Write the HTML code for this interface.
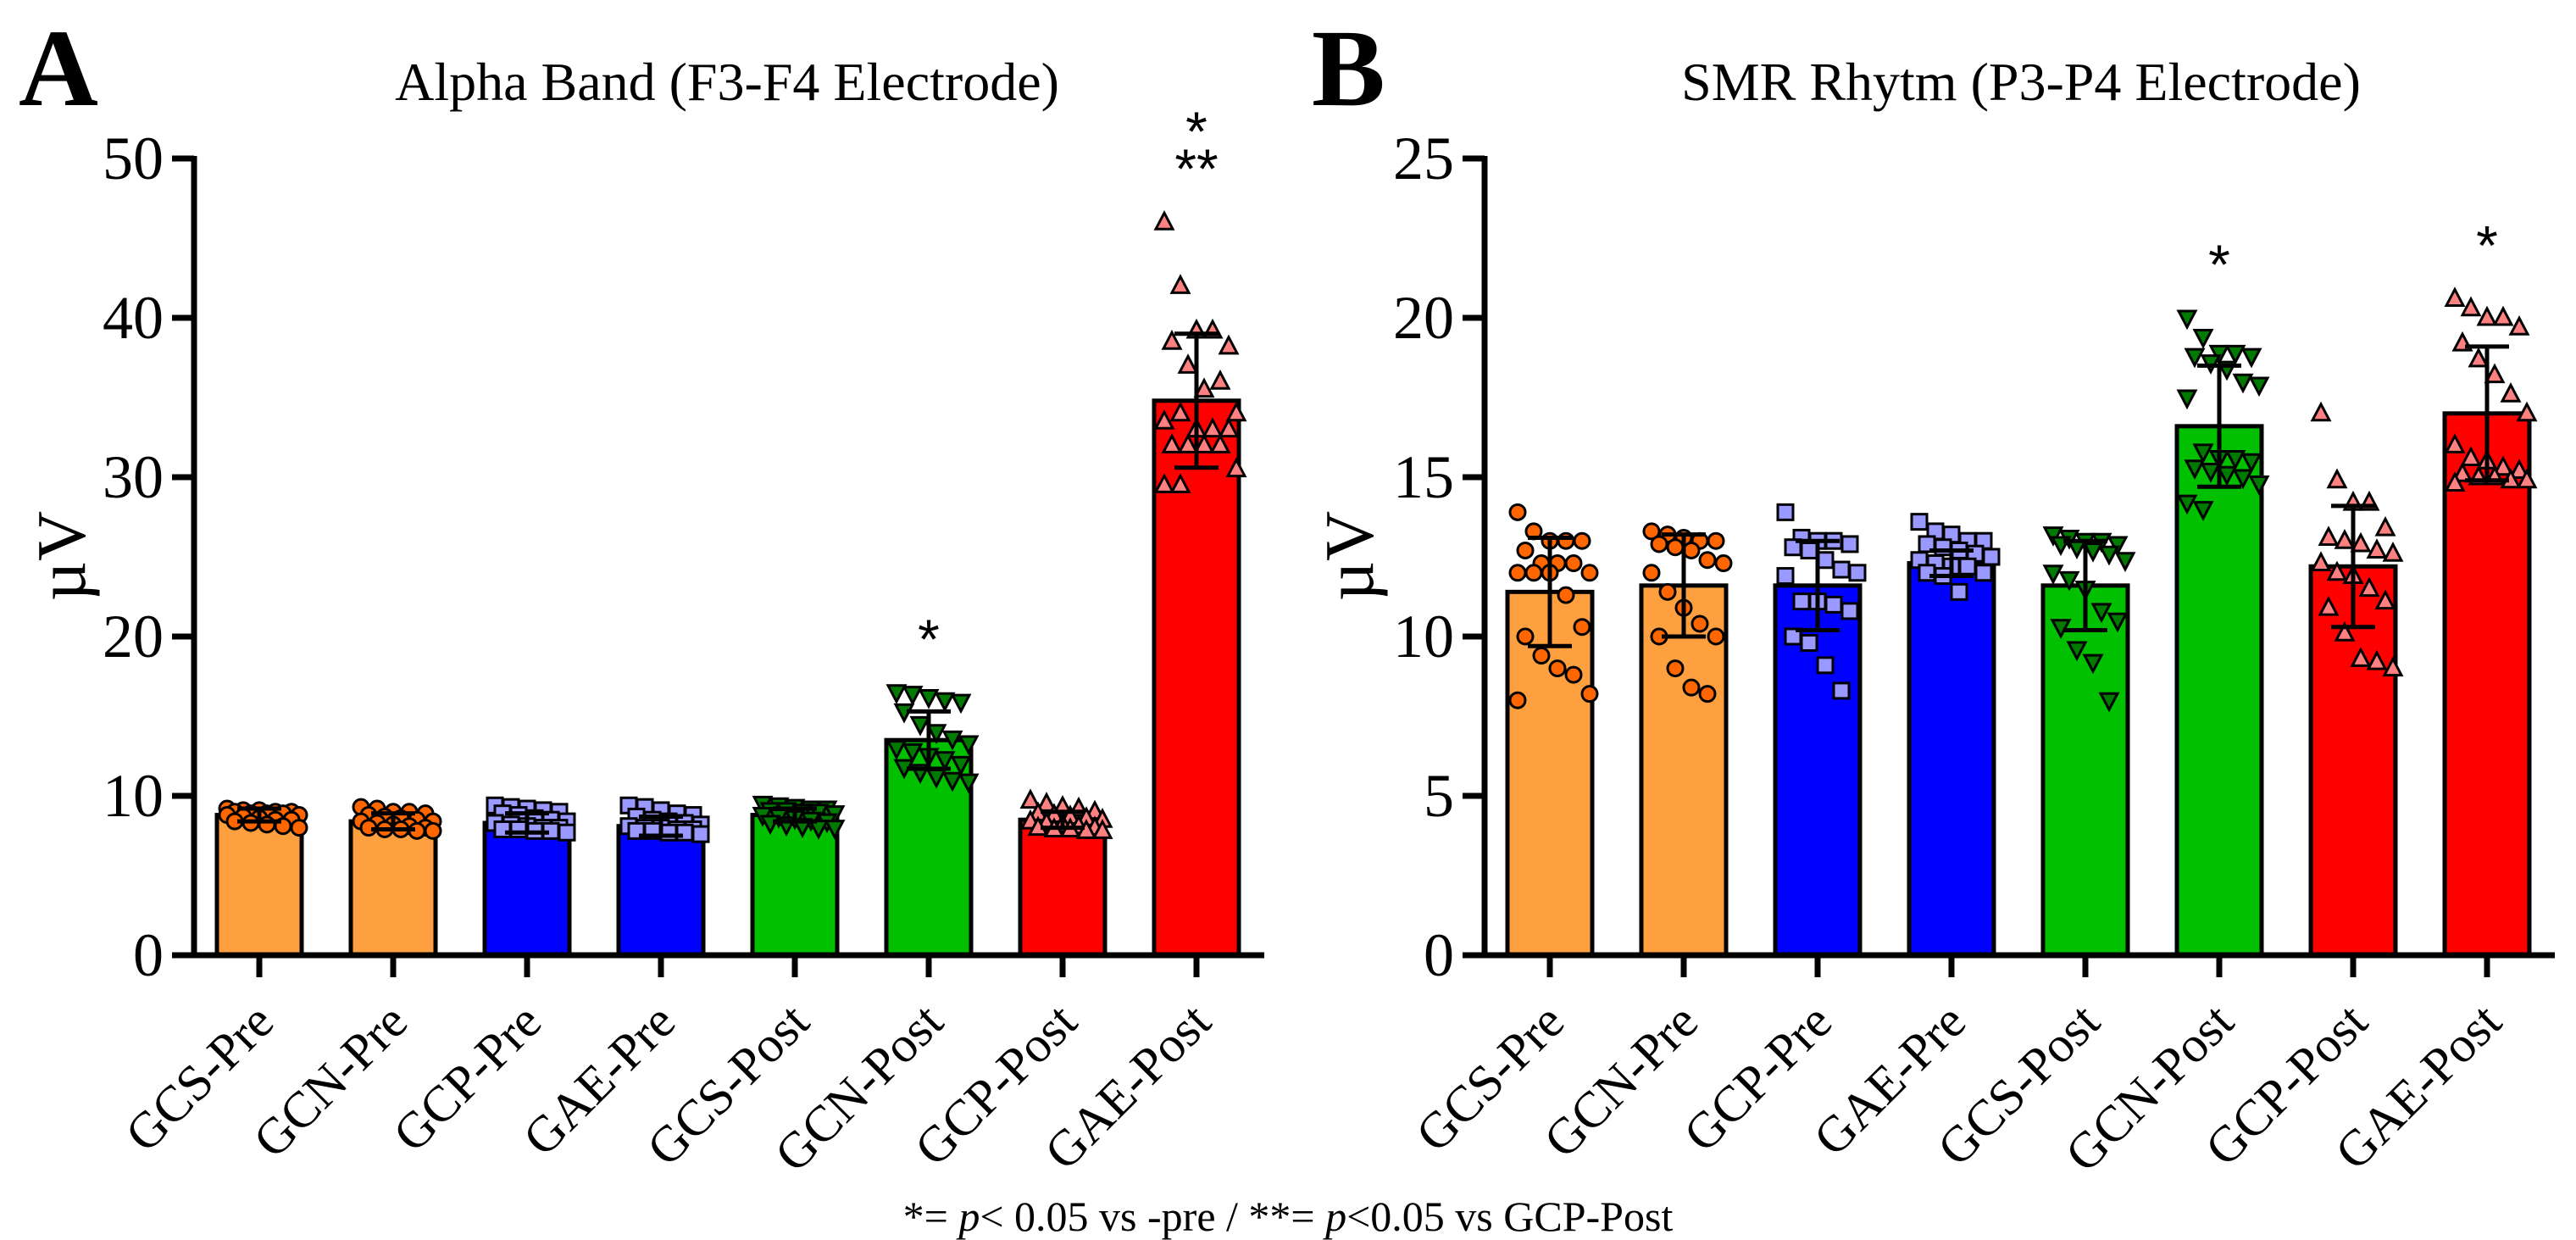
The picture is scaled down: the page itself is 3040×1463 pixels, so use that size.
<!DOCTYPE html>
<html><head><meta charset="utf-8">
<style>
html,body{margin:0;padding:0;background:#fff;}
svg{display:block;font-family:"Liberation Serif",serif;}
</style></head>
<body>
<svg id="chart" width="3040" height="1463" viewBox="0 0 3040 1463" xmlns="http://www.w3.org/2000/svg">
<text x="22" y="124" font-size="130" font-weight="bold">A</text>
<text x="858" y="118" font-size="64" text-anchor="middle">Alpha Band (F3-F4 Electrode)</text>
<text x="1548" y="124" font-size="130" font-weight="bold">B</text>
<text x="2385" y="118" font-size="64" text-anchor="middle">SMR Rhytm (P3-P4 Electrode)</text>
<text x="100" y="656" font-size="82" text-anchor="middle" transform="rotate(-90 100 656)">µV</text>
<text x="1620" y="656" font-size="82" text-anchor="middle" transform="rotate(-90 1620 656)">µV</text>
<text x="1520" y="1452" font-size="50" text-anchor="middle">*= <tspan font-style="italic">p</tspan>&lt; 0.05 vs -pre / **= <tspan font-style="italic">p</tspan>&lt;0.05 vs GCP-Post</text>
<g id="gA"></g>
<g id="gB"></g>
</svg>
<script>
const categories = ["GCS-Pre","GCN-Pre","GCP-Pre","GAE-Pre","GCS-Post","GCN-Post","GCP-Post","GAE-Post"];
const barFill = ["#FFA040","#FFA040","#0000FF","#0000FF","#00C000","#00C000","#FF0000","#FF0000"];
const markerFill = ["#FF6600","#FF6600","#9999FF","#9999FF","#007A00","#007A00","#FF8080","#FF8080"];
const markerShape = ["circle","circle","square","square","down","down","up","up"];

const alphaMeans = [8.8, 8.4, 8.3, 8.1, 8.8, 13.5, 8.5, 34.8];
const alphaSD = [0.4, 0.5, 0.6, 0.6, 0.4, 1.8, 0.5, 4.2];
const alphaTicks = [0,10,20,30,40,50];
const alphaStars = [null,null,null,null,null,["*"],null,["*","**"]];
const alphaPoints = [
 [9.2,9.1,9.1,9.0,9.0,9.0,8.9,8.9,8.9,8.8,8.8,8.7,8.6,8.5,8.5,8.4,8.3,8.2,8.1,8.0],
 [9.3,9.2,9.0,9.0,8.9,8.8,8.7,8.6,8.5,8.4,8.4,8.3,8.2,8.1,8.0,8.0,7.9,7.9,7.8,7.8],
 [9.4,9.3,9.2,9.1,9.0,8.9,8.8,8.6,8.5,8.4,8.3,8.2,8.1,8.0,8.0,7.9,7.9,7.8,7.8,7.7],
 [9.4,9.3,9.1,8.9,8.8,8.7,8.5,8.4,8.3,8.2,8.1,8.0,8.0,7.9,7.9,7.8,7.8,7.7,7.7,7.6],
 [9.5,9.4,9.3,9.2,9.2,9.1,9.1,9.0,9.0,8.9,8.8,8.7,8.6,8.5,8.4,8.3,8.2,8.1,8.0,8.0],
 [16.5,16.4,16.2,16.0,15.9,15.3,14.5,14.0,13.6,13.3,13.0,12.8,12.5,12.3,12.0,11.8,11.5,11.2,11.0,10.9],
 [9.7,9.5,9.3,9.2,9.0,8.9,8.8,8.7,8.6,8.5,8.4,8.3,8.2,8.1,8.0,8.0,7.9,7.9,7.8,7.8],
 [46,42,39.2,39.2,38.2,38.5,37,35.5,36,34,33.5,34,33,33,33,32,32,32,32,30.5,29.5,29.5]
];

const smrMeans = [11.4, 11.6, 11.6, 12.3, 11.6, 16.6, 12.2, 17.0];
const smrSD = [1.7, 1.6, 1.4, 0.4, 1.4, 1.9, 1.9, 2.1];
const smrTicks = [0,5,10,15,20,25];
const smrStars = [null,null,null,null,null,["*"],null,["*"]];
const smrPoints = [
 [13.9,13.3,13.0,13.0,13.0,12.7,12.3,12.3,12.3,12.0,12.0,12.0,12.0,11.3,10.3,10.0,9.4,9.0,8.8,8.2,8.0],
 [13.3,13.2,13.1,13.0,13.0,12.9,12.8,12.7,12.4,12.3,12.0,11.4,10.9,10.4,10.0,10.0,9.0,8.4,8.2],
 [13.9,13.1,13.0,13.0,12.9,12.8,12.7,12.4,12.1,12.0,11.9,11.1,11.1,11.0,10.8,10.0,9.8,9.1,8.3],
 [13.6,13.3,13.2,13.0,13.0,12.9,12.8,12.7,12.6,12.5,12.4,12.3,12.2,12.2,12.0,12.0,11.9,11.4],
 [13.2,13.1,13.0,13.0,12.9,12.9,12.8,12.7,12.6,12.4,12.0,11.8,11.5,10.8,10.5,10.3,9.6,9.2,8.0],
 [20.0,19.4,18.9,18.9,18.8,18.8,18.6,18.4,18.0,17.9,17.5,15.8,15.6,15.6,15.5,15.3,15.2,15.1,15.0,14.8,14.2,14.0],
 [17.0,14.9,14.2,14.2,13.4,13.1,13.0,12.9,12.7,12.6,12.3,12.0,11.9,11.5,11.1,10.9,10.1,9.3,9.2,9.0],
 [20.6,20.3,20.0,20.0,19.7,19.2,18.7,18.2,17.6,17.0,16.0,15.6,15.5,15.3,15.2,15.1,15.0,15.0,14.9,14.9,14.8]
];

const NS="http://www.w3.org/2000/svg";
function mk(parent, tag, attrs){const e=document.createElementNS(NS,tag);for(const k in attrs)e.setAttribute(k,attrs[k]);parent.appendChild(e);return e;}

function drawPanel(g, id, axisX, firstX, yMax, means, sds, points, ticks, stars){
  const y0=1127, yTop=187, step=158, bw=100, axisEnd=firstX+7*step+80;
  const yS=v=>y0-(v/yMax)*(y0-yTop);
  const xS=i=>firstX+i*step;
  means.forEach((m,i)=>{
    const r=mk(g,'rect',{x:xS(i)-bw/2,y:yS(m),width:bw,height:y0-yS(m),fill:barFill[i],stroke:'#000','stroke-width':5});
    
    
  });
  points.forEach((arr,i)=>{
    arr.forEach((v,j)=>{
      const cx=xS(i)+((j%5)-2)*19+((Math.floor(j/5)%2)?9:0);
      const cy=yS(v);
      let e;const st={fill:markerFill[i],stroke:'#000','stroke-width':3};
      if(markerShape[i]==='circle') e=mk(g,'circle',Object.assign({cx:cx,cy:cy,r:9},st));
      else if(markerShape[i]==='square') e=mk(g,'rect',Object.assign({x:cx-9,y:cy-9,width:18,height:18},st));
      else if(markerShape[i]==='up') e=mk(g,'polygon',Object.assign({points:`${cx},${cy-11} ${cx-10},${cy+8} ${cx+10},${cy+8}`},st));
      else e=mk(g,'polygon',Object.assign({points:`${cx},${cy+11} ${cx-10},${cy-8} ${cx+10},${cy-8}`},st));
      
      
    });
  });
  means.forEach((m,i)=>{
    const x=xS(i), a=yS(m+sds[i]), b=yS(m-sds[i]);
    const eg=mk(g,'g',{stroke:'#000','stroke-width':5});
    
    
    mk(eg,'line',{x1:x,y1:a,x2:x,y2:b});
    mk(eg,'line',{x1:x-26,y1:a,x2:x+26,y2:a});
    mk(eg,'line',{x1:x-26,y1:b,x2:x+26,y2:b});
  });
  const ax=mk(g,'g',{stroke:'#000','stroke-width':7});
  
  
  mk(ax,'line',{x1:axisX,y1:yTop-3,x2:axisX,y2:y0+3});
  mk(ax,'line',{x1:axisX-3,y1:y0,x2:axisEnd,y2:y0});
  ticks.forEach(t=>{
    mk(ax,'line',{x1:axisX-26,y1:yS(t),x2:axisX,y2:yS(t)});
    const tx=mk(g,'text',{x:axisX-36,y:yS(t)+24,'font-size':72,'text-anchor':'end'});
    tx.textContent=t;
    
    
  });
  categories.forEach((c,i)=>{
    mk(ax,'line',{x1:xS(i),y1:y0,x2:xS(i),y2:y0+26});
    const ax0=xS(i)+20, ay0=y0+82;
    const tx=mk(g,'text',{x:ax0,y:ay0,'font-size':60,'text-anchor':'end',transform:`rotate(-45 ${ax0} ${ay0})`});
    tx.textContent=c;
    
    
  });
  stars.forEach((s,i)=>{
    if(!s) return;
    const top=yS(Math.max(...points[i]));
    s.forEach((str,k)=>{
      const ty = top - 70 - (s.length-1-k)*44;
      const tx=mk(g,'text',{x:xS(i),y:ty+30,'font-size':66,'text-anchor':'middle','font-family':'Liberation Sans, sans-serif'});
      tx.textContent=str;
      
      
    });
  });
}
drawPanel(document.getElementById('gA'),'panel-a',229,306,50,alphaMeans,alphaSD,alphaPoints,alphaTicks,alphaStars);
drawPanel(document.getElementById('gB'),'panel-b',1752,1829,25,smrMeans,smrSD,smrPoints,smrTicks,smrStars);
</script>
</body></html>
